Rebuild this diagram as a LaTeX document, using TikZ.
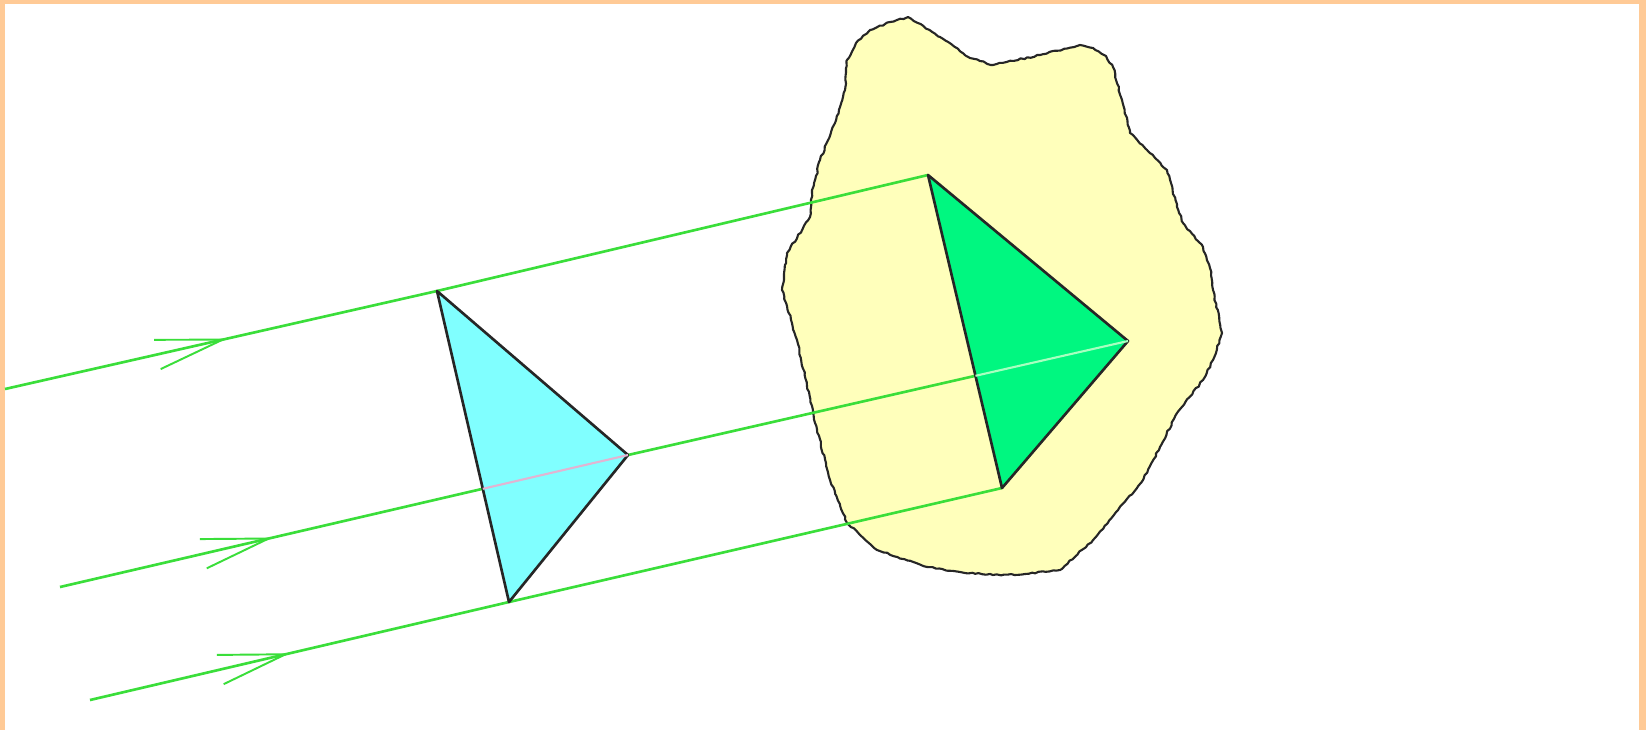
\documentclass[tikz,border=0pt]{standalone}
\usepackage{tikz}
\usetikzlibrary{arrows.meta, decorations.markings, decorations.pathmorphing}
\definecolor{verderayo}{HTML}{3ADE3A}
\definecolor{cianprisma}{HTML}{80FFFF}
\definecolor{verdeprisma}{HTML}{00F780}
\definecolor{amarilloroca}{HTML}{FFFFBB}
\definecolor{durazno}{HTML}{FFCA96}
\definecolor{rosatenue}{HTML}{E2B4D2}
\definecolor{verdetenue}{HTML}{A8FFC0}
\colorlet{colRayo}{verderayo}
\colorlet{colPrismaA}{cianprisma}
\colorlet{colPrismaB}{verdeprisma}
\colorlet{colRoca}{amarilloroca}
\colorlet{colMarco}{durazno}
\tikzset{
  rayo/.style={draw=colRayo, line width=0.75pt},
  rayoFlecha/.style={rayo, postaction={decorate, decoration={markings,
      mark=at position #1 with {\arrow{Straight Barb[length=6.7mm, width=3mm, line width=0.55pt]}}}}},
  rayoTenue/.style={draw=#1, line width=0.6pt},
  prisma/.style={draw=black!85, line width=0.75pt, line join=round},
  roca/.style={draw=black!85, line width=0.6pt, fill=colRoca, line join=round, decorate,
    decoration={random steps, segment length=1pt, amplitude=0.22pt}},
}
\pgfmathsetseed{7}

\begin{document}
\begin{tikzpicture}[x=0.01cm, y=-0.01cm]
  \useasboundingbox (0,0) rectangle (1646,730);
  \fill[colMarco] (0,0) rectangle (1646,730);
  \fill[white] (5,4) rectangle (1639,730);

  \coordinate (cSup) at (437,291);
  \coordinate (cDer) at (628,455);
  \coordinate (cInf) at (509,602);
  \coordinate (vSup) at (928,175);
  \coordinate (vDer) at (1128,341);
  \coordinate (vInf) at (1002,488);
  \coordinate (ent1) at (5,389);
  \coordinate (ent2) at (60,587);
  \coordinate (ent3) at (90,700);

  \path[roca] (908,17) -- (940,37) -- (970,58) -- (993,65) -- (1040,55) -- (1080,45)
    -- (1093,48) -- (1106,56) -- (1113,67) -- (1122,100) -- (1130,133) -- (1147,150)
    -- (1167,170) -- (1177,207) -- (1183,223) -- (1203,247) -- (1210,268) -- (1213,290)
    -- (1222,333) -- (1213,360) -- (1203,380) -- (1177,413) -- (1160,447) -- (1143,480)
    -- (1118,510) -- (1093,540) -- (1060,570) -- (1025,574) -- (993,575) -- (960,572)
    -- (927,567) -- (877,550) -- (847,523) -- (830,480) -- (813,413) -- (797,340)
    -- (782,290) -- (787,253) -- (810,217) -- (812,193) -- (820,160) -- (835,123)
    -- (845,90) -- (847,60) -- (856,43) -- (870,30) -- (890,22) -- cycle;

  \draw[rayoFlecha=0.514] (ent1) -- (cSup);
  \draw[rayo] (cSup) -- (vSup);
  \draw[rayoFlecha=0.375] (ent2) -- (cDer);
  \draw[rayo] (cDer) -- (vDer);
  \draw[rayoFlecha=0.477] (ent3) -- (cInf);
  \draw[rayo] (cInf) -- (vInf);

  \filldraw[prisma, fill=colPrismaA] (cSup) -- (cDer) -- (cInf) -- cycle;
  \filldraw[prisma, fill=colPrismaB] (vSup) -- (vDer) -- (vInf) -- cycle;

  \draw[rayoTenue=rosatenue] (intersection of cSup--cInf and ent2--cDer) -- (cDer);
  \draw[rayoTenue=verdetenue] (intersection of vSup--vInf and cDer--vDer) -- (vDer);
\end{tikzpicture}
\end{document}
